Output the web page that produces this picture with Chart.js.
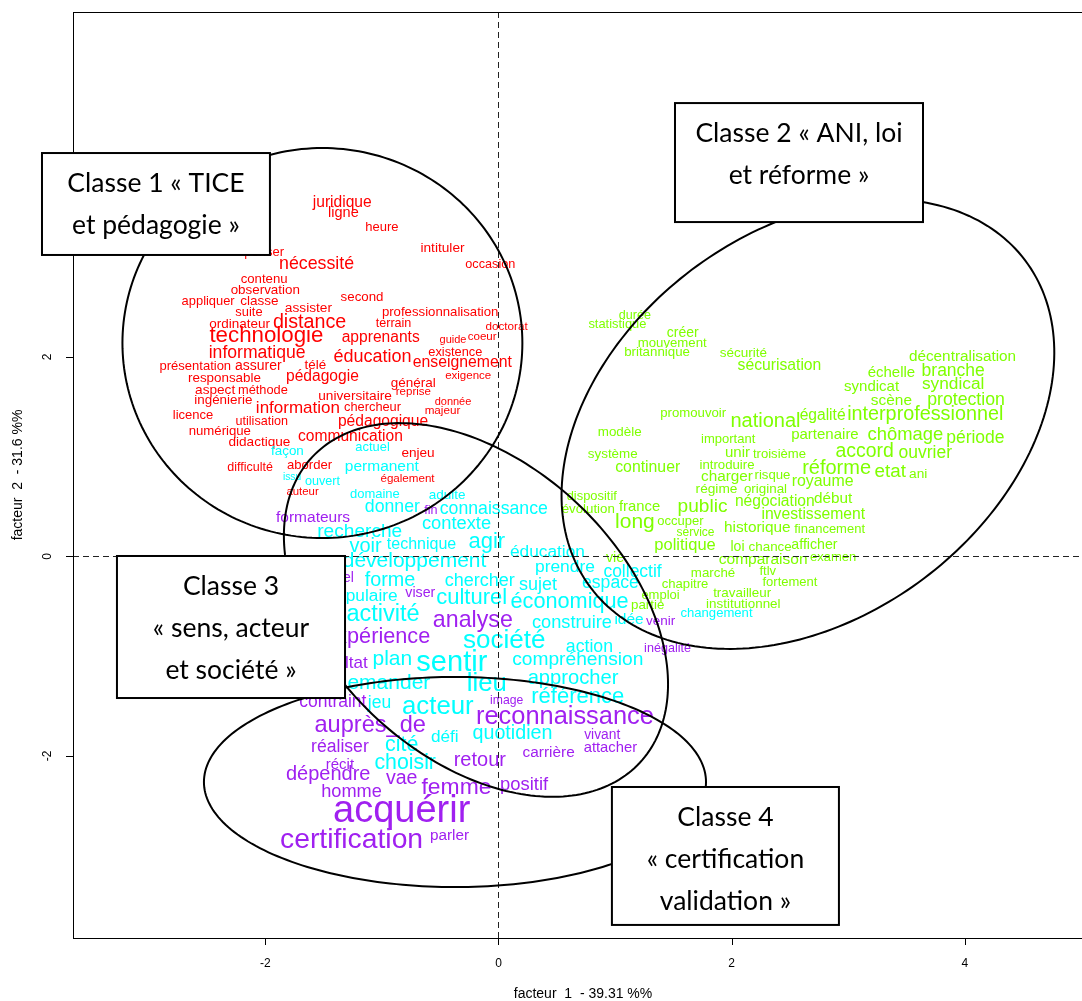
<!DOCTYPE html>
<html><head><meta charset="utf-8">
<script src="https://cdn.jsdelivr.net/npm/chart.js@4.4.1/dist/chart.umd.min.js"></script>
<style>
html,body{margin:0;padding:0;background:#fff;overflow:hidden;}
#wrap{width:1082px;height:1001px;overflow:hidden;position:relative;background:#fff;}
canvas{display:block;}
</style></head><body>
<div id="wrap"><canvas id="c" width="1104" height="1001" style="width:1104px;height:1001px"></canvas></div>
<script>
// ---------- axes ----------
const X_MIN = -3.649, X_MAX = 5.099;
const Y_MIN = -3.825, Y_MAX = 5.459;
const xTicks = [-2, 0, 2, 4];
const yTicks = [-2, 0, 2];
const xTitle = "facteur  1  - 39.31 %%";
const yTitle = "facteur  2  - 31.6 %%";

// ---------- Classe 1 (rouge) ----------
const c1Words = ["juridique","ligne","heure","intituler","penser","occasion","nécessité","contenu","observation","appliquer","classe","second","assister","suite","professionnalisation","terrain","doctorat","ordinateur","distance","guide","coeur","technologie","apprenants","informatique","existence","éducation","enseignement","présentation","assurer","télé","exigence","responsable","pédagogie","général","reprise","aspect","méthode","ingénierie","universitaire","donnée","majeur","chercheur","information","licence","utilisation","pédagogique","numérique","didactique","communication","enjeu","difficulté","aborder","auteur","également"];
const c1X = [-1.34,-1.33,-1.00,-0.48,-2.01,-0.07,-1.56,-2.01,-2.00,-2.49,-2.05,-1.17,-1.63,-2.14,-0.50,-0.90,0.07,-2.22,-1.62,-0.39,-0.14,-1.99,-1.01,-2.07,-0.37,-1.08,-0.31,-2.60,-2.06,-1.57,-0.26,-2.35,-1.51,-0.73,-0.73,-2.43,-2.02,-2.36,-1.23,-0.39,-0.48,-1.08,-1.72,-2.62,-2.03,-0.99,-2.39,-2.05,-1.27,-0.69,-2.13,-1.62,-1.68,-0.78];
const c1Y = [3.55,3.44,3.30,3.09,3.05,2.93,2.93,2.78,2.67,2.56,2.56,2.60,2.49,2.45,2.45,2.34,2.30,2.33,2.35,2.17,2.20,2.21,2.19,2.04,2.05,2.00,1.94,1.91,1.91,1.92,1.81,1.79,1.80,1.74,1.65,1.67,1.66,1.57,1.61,1.55,1.46,1.49,1.49,1.41,1.35,1.35,1.25,1.15,1.20,1.04,0.89,0.91,0.65,0.78];
const c1Weight = [15.6,14.5,13,13.7,13,12.7,17.8,13.2,13.4,12.9,13.5,13.3,13.7,12.9,13.2,12.6,11.7,13.5,19.7,11,11.6,22.3,15.6,17.6,12.8,18,15.8,13,14,13.4,11.5,13.4,15.6,13.5,11.5,13.6,12.8,13.4,13.7,11,11.7,12.8,17,13,12.6,15.6,13.2,13.6,15.6,13.6,12.5,13.1,11.4,11.6];

// ---------- Classe 2 (vert) ----------
const c2Words = ["durée","statistique","créer","mouvement","britannique","sécurité","sécurisation","décentralisation","échelle","branche","syndicat","syndical","scène","protection","promouvoir","national","égalité","interprofessionnel","modèle","important","partenaire","chômage","période","accord","ouvrier","système","unir","troisième","continuer","introduire","réforme","etat","ani","charger","risque","royaume","régime","original","dispositif","début","négociation","évolution","france","public","investissement","long","occuper","service","historique","financement","politique","loi","chance","afficher","comparaison","examen","vie","marché","ftlv","fortement","chapitre","emploi","travailleur","partie","institutionnel"];
const c2X = [1.17,1.02,1.58,1.49,1.36,2.10,2.41,3.98,3.37,3.90,3.20,3.90,3.37,4.01,1.67,2.29,2.78,3.66,1.04,1.97,2.80,3.49,4.09,3.14,3.66,0.98,2.05,2.41,1.28,1.96,2.90,3.36,3.60,1.96,2.35,2.78,1.87,2.29,0.80,2.87,2.37,0.77,1.21,1.75,2.70,1.17,1.56,1.69,2.22,2.84,1.60,2.05,2.33,2.71,2.27,2.87,1.00,1.84,2.31,2.50,1.60,1.39,2.09,1.28,2.10];
const c2Y = [2.42,2.33,2.24,2.14,2.05,2.04,1.91,2.00,1.84,1.86,1.70,1.73,1.56,1.57,1.43,1.35,1.41,1.42,1.24,1.17,1.22,1.22,1.19,1.05,1.04,1.02,1.04,1.02,0.89,0.91,0.88,0.85,0.82,0.80,0.81,0.75,0.67,0.67,0.60,0.58,0.55,0.47,0.50,0.50,0.42,0.34,0.35,0.24,0.29,0.27,0.11,0.09,0.09,0.11,-0.03,-0.01,-0.02,-0.17,-0.15,-0.26,-0.28,-0.39,-0.37,-0.49,-0.48];
const c2Weight = [12.6,12.9,14,13.2,13.3,13.5,15.7,15.3,15,17.5,15,17.3,15.4,17.7,13.2,20,15.6,19.8,13.4,13,15,18.4,17.5,19.4,17.5,13.4,15,13.1,15.8,13.2,20,18.8,13.7,15.3,13.2,15.9,13.7,13.4,12.9,15.3,15.6,13.3,14.8,19.1,15.7,21,13,12,15.4,13,16.5,14,13.4,14.2,15.5,13,14.3,13.3,13,13,13.1,13,13.4,13.3,13.4];

// ---------- Classe 3 (cyan) ----------
const c3Words = ["façon","actuel","permanent","issu","ouvert","domaine","adulte","donner","connaissance","contexte","recherche","voir","technique","agir","développement","éducation","prendre","forme","chercher","sujet","collectif","espace","populaire","culturel","économique","activité","construire","idée","société","action","plan","sentir","compréhension","lieu","approcher","demander","référence","acteur","jeu","cité","défi","quotidien","choisir","changement"];
const c3X = [-1.81,-1.08,-1.00,-1.77,-1.51,-1.06,-0.44,-0.91,-0.04,-0.36,-1.19,-1.14,-0.66,-0.10,-0.72,0.42,0.57,-0.93,-0.16,0.34,1.15,0.96,-1.17,-0.23,0.61,-0.99,0.63,1.12,0.05,0.78,-0.91,-0.40,0.68,-0.10,0.64,-0.99,0.68,-0.52,-1.02,-0.83,-0.46,0.12,-0.80,1.87];
const c3Y = [1.05,1.09,0.90,0.80,0.75,0.62,0.61,0.50,0.47,0.33,0.25,0.10,0.12,0.15,-0.05,0.04,-0.11,-0.24,-0.25,-0.29,-0.16,-0.27,-0.40,-0.42,-0.46,-0.58,-0.67,-0.63,-0.85,-0.91,-1.03,-1.07,-1.03,-1.28,-1.22,-1.27,-1.41,-1.51,-1.47,-1.89,-1.81,-1.78,-2.07,-0.57];
const c3Weight = [13.4,12.9,15.5,10.3,12.6,13,13.5,17.7,17.7,18.3,19.1,20,16,22,21,17.3,17.4,19.8,18,18,17.5,17.6,17.3,22,21.7,23.5,18.2,15.5,26,17.7,21,29,19.2,25.7,20.2,21,22,25.8,17.5,21.4,17.2,19.7,21.3,13.1];

// ---------- Classe 4 (violet) ----------
const c4Words = ["formateurs","fin","réel","viser","analyse","expérience","résultat","inégalité","venir","image","contraint","reconnaissance","auprès_de","réaliser","vivant","attacher","carrière","retour","récit","dépendre","vae","femme","positif","homme","acquérir","certification","parler"];
const c4X = [-1.59,-0.58,-1.34,-0.67,-0.22,-1.04,-1.36,1.45,1.39,0.07,-1.42,0.57,-1.10,-1.36,0.89,0.96,0.43,-0.16,-1.36,-1.46,-0.83,-0.36,0.22,-1.26,-0.83,-1.26,-0.42];
const c4Y = [0.39,0.46,-0.22,-0.37,-0.64,-0.81,-1.07,-0.92,-0.65,-1.45,-1.46,-1.61,-1.69,-1.91,-1.79,-1.92,-1.97,-2.05,-2.09,-2.19,-2.23,-2.32,-2.29,-2.36,-2.56,-2.84,-2.80];
const c4Weight = [15.5,12.6,14,14.2,23.2,21.7,17,12.6,13.5,12.2,17.5,25.4,23.6,17.6,13.8,14.8,15.4,20,15,20,19.6,22.9,18.4,18.2,38,28.3,15.3];

// ---------- ellipses (data units: centre, conjugate half-axes u and v) ----------
const ellipseCX = [-1.51, 2.654, -0.193, -0.373];
const ellipseCY = [2.14, 1.328, -0.536, -2.261];
const ellipseUX = [1.715, 1.863, 1.405, 2.153];
const ellipseUY = [0, 1.641, -1.532, 0];
const ellipseVX = [0, 0.997, -0.860, 0];
const ellipseVY = [1.955, -1.546, -1.078, 1.053];

// ---------- class boxes (data units) ----------
const boxLines = [
  ["Classe 1 « TICE", "et pédagogie »"],
  ["Classe 2 « ANI, loi", "et réforme »"],
  ["Classe 3", "« sens, acteur", "et société »"],
  ["Classe 4", "« certification", "validation »"]
];
const boxX1 = [-3.915, 1.514, -3.272, 0.973];
const boxY1 = [4.045, 4.546, 0.005, -2.311];
const boxX2 = [-1.960, 3.641, -1.316, 2.920];
const boxY2 = [3.023, 3.353, -1.419, -3.694];

const classes = [
  {name:"Classe 1", words:c1Words, x:c1X, y:c1Y, w:c1Weight, color:"#FF0000"},
  {name:"Classe 2", words:c2Words, x:c2X, y:c2Y, w:c2Weight, color:"#7FFF00"},
  {name:"Classe 3", words:c3Words, x:c3X, y:c3Y, w:c3Weight, color:"#00FFFF"},
  {name:"Classe 4", words:c4Words, x:c4X, y:c4Y, w:c4Weight, color:"#A020F0"}
];

const FONT = '"Liberation Sans", Arial, sans-serif';
const BOXFONT = 'Lato, "Open Sans", sans-serif';

const afcPlugin = {
  id: 'afc',
  afterDatasetsDraw(chart) {
    const {ctx, chartArea: a, scales: {x, y}} = chart;
    ctx.save();
    // words
    ctx.textAlign = 'center';
    ctx.textBaseline = 'middle';
    chart.data.datasets.forEach((ds, di) => {
      const meta = chart.getDatasetMeta(di);
      const cls = classes[di];
      ctx.fillStyle = cls.color;
      meta.data.forEach((pt, i) => {
        ctx.font = cls.w[i] + 'px ' + FONT;
        ctx.fillText(cls.words[i], pt.x, pt.y);
      });
    });
    // dashed zero lines
    ctx.strokeStyle = '#222';
    ctx.lineWidth = 1;
    ctx.setLineDash([6, 4]);
    const x0 = Math.round(x.getPixelForValue(0)) + 0.5;
    const y0 = Math.round(y.getPixelForValue(0)) + 0.5;
    ctx.beginPath();
    ctx.moveTo(a.left, y0); ctx.lineTo(a.right, y0);
    ctx.moveTo(x0, a.top); ctx.lineTo(x0, a.bottom);
    ctx.stroke();
    ctx.setLineDash([]);
    // ellipses
    ctx.strokeStyle = '#000';
    ctx.lineWidth = 2;
    for (let e = 0; e < ellipseCX.length; e++) {
      ctx.beginPath();
      for (let k = 0; k <= 240; k++) {
        const t = k / 240 * Math.PI * 2;
        const dx = ellipseCX[e] + ellipseUX[e] * Math.cos(t) + ellipseVX[e] * Math.sin(t);
        const dy = ellipseCY[e] + ellipseUY[e] * Math.cos(t) + ellipseVY[e] * Math.sin(t);
        const px = x.getPixelForValue(dx), py = y.getPixelForValue(dy);
        if (k === 0) ctx.moveTo(px, py); else ctx.lineTo(px, py);
      }
      ctx.closePath();
      ctx.stroke();
    }
    // frame
    ctx.lineWidth = 1;
    ctx.strokeStyle = '#000';
    ctx.strokeRect(a.left + 0.5, a.top + 0.5, a.right - a.left, a.bottom - a.top);
    // ticks
    ctx.fillStyle = '#000';
    ctx.font = '12px ' + FONT;
    ctx.beginPath();
    xTicks.forEach(v => {
      const px = Math.round(x.getPixelForValue(v)) + 0.5;
      ctx.moveTo(px, a.bottom); ctx.lineTo(px, a.bottom + 7);
    });
    yTicks.forEach(v => {
      const py = Math.round(y.getPixelForValue(v)) + 0.5;
      ctx.moveTo(a.left, py); ctx.lineTo(a.left - 7, py);
    });
    ctx.stroke();
    xTicks.forEach(v => {
      ctx.fillText(v < 0 ? '-' + Math.abs(v) : String(v), x.getPixelForValue(v), a.bottom + 26);
    });
    yTicks.forEach(v => {
      ctx.save();
      ctx.translate(a.left - 25, y.getPixelForValue(v));
      ctx.rotate(-Math.PI / 2);
      ctx.fillText(v < 0 ? '-' + Math.abs(v) : String(v), 0, 0);
      ctx.restore();
    });
    // axis titles
    ctx.font = '14px ' + FONT;
    ctx.fillText(xTitle, (a.left + a.right) / 2, a.bottom + 56);
    ctx.save();
    ctx.translate(a.left - 55, (a.top + a.bottom) / 2);
    ctx.rotate(-Math.PI / 2);
    ctx.fillText(yTitle, 0, 0);
    ctx.restore();
    // class boxes
    for (let b = 0; b < boxLines.length; b++) {
      const bx1 = x.getPixelForValue(boxX1[b]), by1 = y.getPixelForValue(boxY1[b]);
      const bx2 = x.getPixelForValue(boxX2[b]), by2 = y.getPixelForValue(boxY2[b]);
      ctx.fillStyle = '#fff';
      ctx.fillRect(bx1, by1, bx2 - bx1, by2 - by1);
      ctx.lineWidth = 2;
      ctx.strokeStyle = '#000';
      ctx.strokeRect(bx1, by1, bx2 - bx1, by2 - by1);
      ctx.fillStyle = '#000';
      ctx.font = '26.5px ' + BOXFONT;
      boxLines[b].forEach((line, li) => {
        ctx.fillText(line, (bx1 + bx2) / 2, by1 + 30 + li * 42);
      });
    }
    ctx.restore();
  }
};

new Chart(document.getElementById('c'), {
  type: 'scatter',
  data: {
    datasets: classes.map(c => ({
      label: c.name,
      data: c.words.map((w, i) => ({x: c.x[i], y: c.y[i]})),
      pointRadius: 0, pointHoverRadius: 0, borderWidth: 0,
      backgroundColor: c.color
    }))
  },
  options: {
    responsive: false,
    animation: false,
    devicePixelRatio: 1,
    events: [],
    layout: {padding: {left: 73, top: 12, right: 11, bottom: 63}},
    scales: {
      x: {type: 'linear', min: X_MIN, max: X_MAX, display: false},
      y: {type: 'linear', min: Y_MIN, max: Y_MAX, display: false}
    },
    plugins: {legend: {display: false}, tooltip: {enabled: false}}
  },
  plugins: [afcPlugin]
});
</script>
</body></html>
